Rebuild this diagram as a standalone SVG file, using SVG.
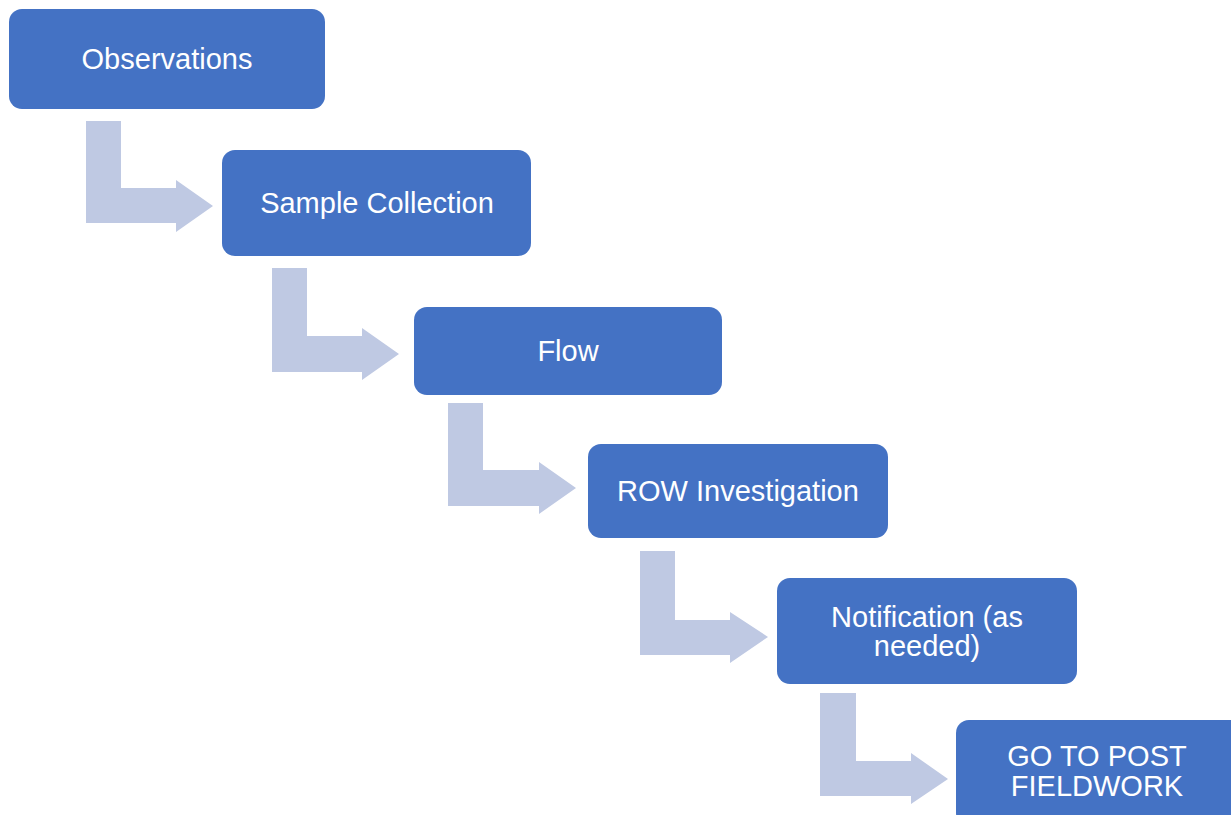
<svg xmlns="http://www.w3.org/2000/svg" width="1231" height="815" viewBox="0 0 1231 815">
  <style>
    .box { fill: #4472C4; }
    .bend { fill: #BFC9E3; }
    .label { font-family: "Liberation Sans", Arial, sans-serif; font-size: 29px; fill: #FFFFFF; text-anchor: middle; }
  </style>
  <rect width="1231" height="815" fill="#FFFFFF"/>

  <!-- bent arrows between the steps -->
  <g id="connectors">
    <path class="bend" d="M86,121 H121 V188 H176 V180 L213,206 L176,232 V223 H86 Z"/>
    <path class="bend" d="M272,268 H307 V336 H362 V328 L399,354 L362,380 V372 H272 Z"/>
    <path class="bend" d="M448,403 H483 V470 H539 V462 L576,488 L539,514 V506 H448 Z"/>
    <path class="bend" d="M640,551 H675 V620 H730 V612 L768,637 L730,663 V655 H640 Z"/>
    <path class="bend" d="M820,693 H856 V761 H911 V753 L948,779 L911,804 V796 H820 Z"/>
  </g>

  <g id="observations">
    <rect class="box" x="9" y="9" width="316" height="100" rx="13"/>
    <text class="label" x="167" y="69">Observations</text>
  </g>

  <g id="sample-collection">
    <rect class="box" x="222" y="150" width="309" height="106" rx="13"/>
    <text class="label" x="377" y="213">Sample Collection</text>
  </g>

  <g id="flow">
    <rect class="box" x="414" y="307" width="308" height="88" rx="13"/>
    <text class="label" x="568" y="361">Flow</text>
  </g>

  <g id="row-investigation">
    <rect class="box" x="588" y="444" width="300" height="94" rx="13"/>
    <text class="label" x="738" y="501">ROW Investigation</text>
  </g>

  <g id="notification">
    <rect class="box" x="777" y="578" width="300" height="106" rx="13"/>
    <text class="label" x="927" y="627">Notification (as</text>
    <text class="label" x="927" y="656">needed)</text>
  </g>

  <g id="post-fieldwork">
    <rect class="box" x="956" y="720" width="300" height="106" rx="13"/>
    <text class="label" x="1097" y="766">GO TO POST</text>
    <text class="label" x="1097" y="796">FIELDWORK</text>
  </g>
</svg>
